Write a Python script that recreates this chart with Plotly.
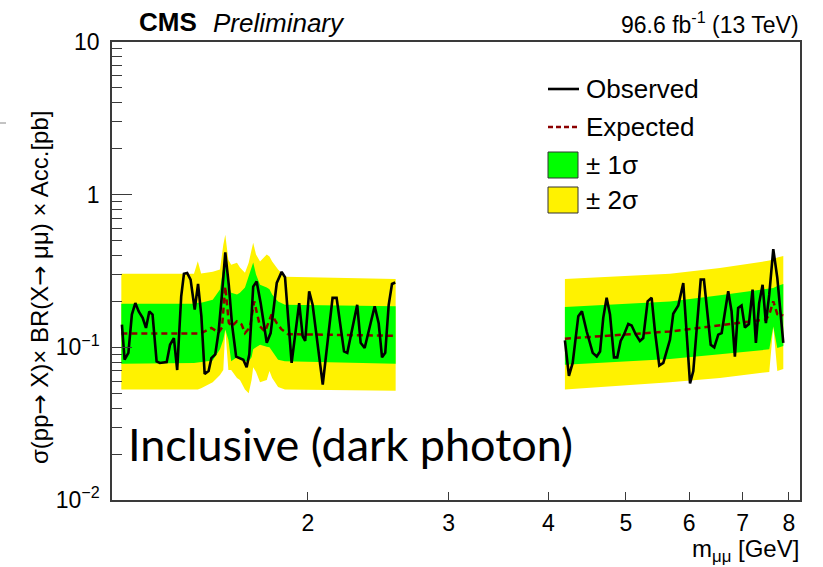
import math
import plotly.graph_objects as go

# ---------------- data ----------------
# Observed limit, low-mass segment
obs_m_lo = [1.170, 1.179, 1.192, 1.204, 1.216, 1.228, 1.242, 1.254, 1.266, 1.278,
            1.293, 1.305, 1.331, 1.344, 1.359, 1.372, 1.388, 1.399, 1.412, 1.426,
            1.443, 1.457, 1.471, 1.485, 1.502, 1.514, 1.531, 1.546, 1.561, 1.576,
            1.592, 1.607, 1.626, 1.641, 1.660, 1.676, 1.689, 1.708, 1.725, 1.745,
            1.776, 1.796, 1.828, 1.854, 1.872, 1.908, 1.950, 1.970, 1.984, 2.007,
            2.027, 2.087, 2.147, 2.172, 2.219, 2.240, 2.305, 2.328, 2.355, 2.424,
            2.452, 2.476, 2.499, 2.524, 2.548, 2.572]
obs_v_lo = [0.141, 0.083, 0.092, 0.164, 0.195, 0.172, 0.156, 0.134, 0.172, 0.164,
            0.081, 0.079, 0.080, 0.104, 0.115, 0.071, 0.216, 0.303, 0.307, 0.278,
            0.177, 0.260, 0.160, 0.067, 0.070, 0.085, 0.090, 0.127, 0.222, 0.419,
            0.257, 0.141, 0.087, 0.085, 0.083, 0.074, 0.090, 0.250, 0.270, 0.195,
            0.107, 0.124, 0.264, 0.312, 0.288, 0.079, 0.195, 0.118, 0.110, 0.233,
            0.190, 0.057, 0.211, 0.211, 0.094, 0.092, 0.190, 0.107, 0.099, 0.186,
            0.144, 0.086, 0.092, 0.190, 0.260, 0.266]

# Observed limit, high-mass segment
obs_m_hi = [4.194, 4.243, 4.289, 4.359, 4.405, 4.466, 4.544, 4.597, 4.641, 4.684,
            4.730, 4.776, 4.831, 4.877, 4.925, 4.972, 5.034, 5.083, 5.146, 5.206,
            5.256, 5.323, 5.385, 5.437, 5.505, 5.569, 5.677, 5.731, 5.815, 5.899,
            6.015, 6.072, 6.203, 6.261, 6.384, 6.450, 6.525, 6.589, 6.715, 6.780,
            6.845, 6.910, 6.978, 7.045, 7.127, 7.203, 7.272, 7.341, 7.414, 7.485,
            7.558, 7.646, 7.735, 7.870]
obs_v_hi = [0.111, 0.065, 0.079, 0.160, 0.172, 0.127, 0.092, 0.087, 0.094, 0.156,
            0.211, 0.164, 0.086, 0.086, 0.110, 0.121, 0.142, 0.139, 0.121, 0.110,
            0.115, 0.200, 0.211, 0.127, 0.076, 0.079, 0.112, 0.166, 0.188, 0.264,
            0.058, 0.070, 0.278, 0.278, 0.104, 0.100, 0.121, 0.124, 0.233, 0.172,
            0.087, 0.181, 0.188, 0.135, 0.142, 0.239, 0.107, 0.195, 0.257, 0.144,
            0.222, 0.440, 0.285, 0.107]

# Expected limit
exp_m_lo = [1.168, 1.465, 1.485, 1.514, 1.546, 1.561, 1.576, 1.592, 1.605, 1.629,
            1.652, 1.668, 1.692, 1.713, 1.742, 1.767, 1.801, 1.828, 1.854, 1.889, 2.575]
exp_v_lo = [0.123, 0.123, 0.127, 0.134, 0.125, 0.135, 0.250, 0.145, 0.137, 0.148,
            0.141, 0.124, 0.135, 0.200, 0.137, 0.127, 0.164, 0.144, 0.131, 0.122, 0.119]
exp_m_hi = [4.194, 5.677, 7.485, 7.558, 7.646, 7.735, 7.870]
exp_v_hi = [0.114, 0.127, 0.152, 0.164, 0.200, 0.165, 0.162]

# Expected bands, low-mass segment
band_m_lo = [1.168, 1.440, 1.456, 1.470, 1.520, 1.552, 1.567, 1.576, 1.590, 1.603,
             1.630, 1.644, 1.668, 1.686, 1.700, 1.708, 1.722, 1.742, 1.776, 1.790,
             1.804, 1.835, 1.872, 2.575]
m2s_lo = [0.053, 0.053, 0.053, 0.054, 0.059, 0.066, 0.071, 0.131, 0.071, 0.071,
          0.063, 0.061, 0.053, 0.050, 0.061, 0.074, 0.069, 0.059, 0.061, 0.070,
          0.063, 0.055, 0.053, 0.052]
m1s_lo = [0.078, 0.079, 0.079, 0.080, 0.082, 0.097, 0.112, 0.131, 0.112, 0.081,
          0.086, 0.086, 0.081, 0.081, 0.086, 0.097, 0.100, 0.104, 0.101, 0.100,
          0.094, 0.083, 0.081, 0.078]
p1s_lo = [0.193, 0.193, 0.196, 0.196, 0.205, 0.239, 0.333, 0.364, 0.257, 0.228,
          0.222, 0.228, 0.247, 0.290, 0.333, 0.360, 0.300, 0.257, 0.247, 0.240,
          0.222, 0.200, 0.190, 0.186]
p2s_lo = [0.303, 0.303, 0.366, 0.304, 0.313, 0.323, 0.470, 0.547, 0.375, 0.348,
          0.358, 0.333, 0.308, 0.358, 0.436, 0.485, 0.405, 0.365, 0.405, 0.394,
          0.365, 0.323, 0.290, 0.280]

# Expected bands, high-mass segment
band_m_hi = [4.194, 5.677, 6.556, 7.558, 7.646, 7.735, 7.870]
m2s_hi = [0.053, 0.059, 0.063, 0.069, 0.137, 0.070, 0.072]
m1s_hi = [0.077, 0.084, 0.090, 0.097, 0.137, 0.099, 0.102]
p1s_hi = [0.184, 0.200, 0.219, 0.241, 0.245, 0.252, 0.260]
p2s_hi = [0.280, 0.303, 0.331, 0.370, 0.378, 0.388, 0.397]

x_ticks = [2, 3, 4, 5, 6, 7, 8]
x_ticktext = ["2", "3", "4", "5", "6", "7", "8"]
y_major = [0.01, 0.1, 1, 10]
y_major_text = ["10<sup>\u22122</sup>", "10<sup>\u22121</sup>", "1", "10"]
y_minor = [k * d for d in (0.01, 0.1, 1) for k in range(2, 10)]

x_range = [1.137, 8.258]
y_range = [0.01, 10]

# ---------------- figure ----------------
W, H = 823, 567
PL, PR, PT, PB = 112, 800, 42, 500  # plot-area pixel box

GREEN = "#00ff00"
YELLOW = "#fff200"
EXPCOL = "#8b0000"
FONT = "Liberation Sans, Arial, Helvetica, sans-serif"
AXCOL = "#3a3a3a"


def px(xp):
    return (xp - PL) / (PR - PL)


def py(yp):
    return (PB - yp) / (PB - PT)


fig = go.Figure()


def add_band(m, lo, hi, color):
    fig.add_trace(go.Scatter(
        x=list(m) + list(m)[::-1], y=list(hi) + list(lo)[::-1],
        fill="toself", fillcolor=color, mode="lines", line=dict(width=0),
        hoverinfo="skip", showlegend=False))


add_band(band_m_lo, m2s_lo, p2s_lo, YELLOW)
add_band(band_m_hi, m2s_hi, p2s_hi, YELLOW)
add_band(band_m_lo, m1s_lo, p1s_lo, GREEN)
add_band(band_m_hi, m1s_hi, p1s_hi, GREEN)

for m, v in ((exp_m_lo, exp_v_lo), (exp_m_hi, exp_v_hi)):
    fig.add_trace(go.Scatter(x=m, y=v, mode="lines",
                             line=dict(color=EXPCOL, width=2.5, dash="6px,4px"),
                             showlegend=False, hoverinfo="skip"))
for m, v in ((obs_m_lo, obs_v_lo), (obs_m_hi, obs_v_hi)):
    fig.add_trace(go.Scatter(x=m, y=v, mode="lines",
                             line=dict(color="black", width=2.6),
                             showlegend=False, hoverinfo="skip"))

# dummy trace for the minor-tick axis
fig.add_trace(go.Scatter(x=[None], y=[None], yaxis="y2", showlegend=False))

fig.update_layout(
    width=W, height=H,
    margin=dict(l=PL, r=W - PR, t=PT, b=H - PB),
    paper_bgcolor="white", plot_bgcolor="white",
    showlegend=False,
    font=dict(family=FONT, color="black"),
    xaxis=dict(type="log", range=[math.log10(x_range[0]), math.log10(x_range[1])],
               tickvals=x_ticks, ticktext=x_ticktext, ticks="inside", ticklen=8,
               tickwidth=1.3, tickcolor=AXCOL,
               showline=True, mirror=True, linecolor=AXCOL, linewidth=1.6,
               showgrid=False, zeroline=False, tickfont=dict(size=23, family=FONT),
               ticklabelstandoff=2),
    yaxis=dict(type="log", range=[math.log10(y_range[0]), math.log10(y_range[1])],
               tickvals=y_major, ticktext=y_major_text, ticks="inside", ticklen=20,
               tickwidth=1.3, tickcolor=AXCOL,
               showline=True, mirror=True, linecolor=AXCOL, linewidth=1.6,
               showgrid=False, zeroline=False, tickfont=dict(size=23, family=FONT),
               ticklabelstandoff=6),
    yaxis2=dict(type="log", overlaying="y", anchor="x", side="left",
                range=[math.log10(y_range[0]), math.log10(y_range[1])],
                tickvals=y_minor, ticks="inside", ticklen=10, tickwidth=1.3,
                tickcolor=AXCOL, showticklabels=False, showline=False,
                showgrid=False, zeroline=False),
)

ARROW = '<span style="font-family:DejaVu Sans">\u2192</span>'
ann = []
# header
ann.append(dict(x=px(137), y=py(22), text="<b>CMS</b>", xanchor="left", yanchor="middle",
                font=dict(size=26, family=FONT)))
ann.append(dict(x=px(211), y=py(23), text="<i>Preliminary</i>", xanchor="left",
                yanchor="middle", font=dict(size=26, family=FONT)))
ann.append(dict(x=px(801), y=py(23), text="96.6 fb<sup>-1</sup> (13 TeV)", xanchor="right",
                yanchor="middle", font=dict(size=23, family=FONT)))
# axis titles
ann.append(dict(x=px(801), y=py(550), text="m<sub>\u03bc\u03bc</sub> [GeV]", xanchor="right",
                yanchor="middle", font=dict(size=24, family=FONT)))
ann.append(dict(x=px(40), y=py(288),
                text="\u03c3(pp" + ARROW + " X)\u00d7 BR(X" + ARROW +
                     " \u03bc\u03bc) \u00d7 Acc.[pb]",
                textangle=-90, xanchor="center", yanchor="middle",
                font=dict(size=24, family=FONT)))
# big label
ann.append(dict(x=px(126), y=py(444), text="Inclusive (dark photon)", xanchor="left",
                yanchor="middle", font=dict(size=45, family="Lato, Noto Sans, sans-serif")))
# legend texts
leg_y = [89, 127, 165, 200]
leg_txt = ["Observed", "Expected", "\u00b1 1\u03c3", "\u00b1 2\u03c3"]
for yy, tt in zip(leg_y, leg_txt):
    ann.append(dict(x=px(584), y=py(yy), text=tt, xanchor="left", yanchor="middle",
                    font=dict(size=26, family=FONT)))
for a in ann:
    a.update(xref="paper", yref="paper", showarrow=False)
fig.update_layout(annotations=ann)

shapes = [
    dict(type="line", x0=px(548), x1=px(579), y0=py(89), y1=py(89),
         line=dict(color="black", width=2.6)),
    dict(type="line", x0=px(548), x1=px(579), y0=py(127), y1=py(127),
         line=dict(color=EXPCOL, width=2.5, dash="5px,3px")),
    dict(type="rect", x0=px(548), x1=px(578), y0=py(178), y1=py(152),
         fillcolor=GREEN, line=dict(color="#333", width=1)),
    dict(type="rect", x0=px(548), x1=px(578), y0=py(213), y1=py(187),
         fillcolor=YELLOW, line=dict(color="#333", width=1)),
    dict(type="line", x0=px(0), x1=px(6), y0=py(123), y1=py(123),
         line=dict(color="#888", width=1)),
]
for s in shapes:
    s.update(xref="paper", yref="paper")
fig.update_layout(shapes=shapes)

fig.write_html("out.html")
